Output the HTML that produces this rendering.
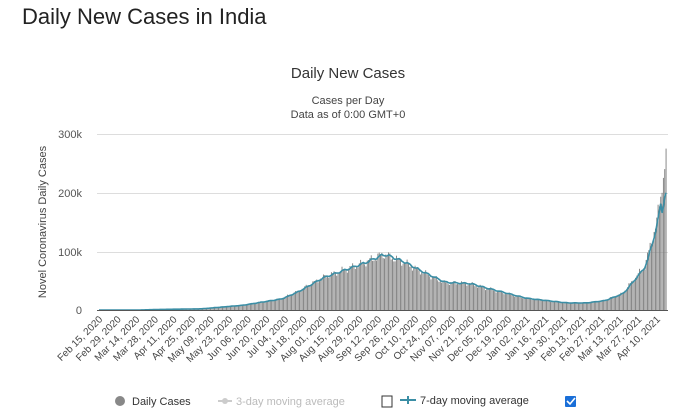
<!DOCTYPE html>
<html><head><meta charset="utf-8"><style>
body{margin:0;background:#fff;width:683px;height:413px;overflow:hidden;font-family:"Liberation Sans","DejaVu Sans",sans-serif}
</style></head><body>
<svg id="s" width="683" height="413" xmlns="http://www.w3.org/2000/svg" font-family="Liberation Sans, DejaVu Sans, sans-serif">
<text x="22" y="24" font-size="22" fill="#222">Daily New Cases in India</text>
<text x="348" y="78" font-size="15" fill="#333" text-anchor="middle">Daily New Cases</text>
<text x="348" y="104" font-size="11" fill="#444" text-anchor="middle">Cases per Day</text>
<text x="348" y="118" font-size="11" fill="#444" text-anchor="middle">Data as of 0:00 GMT+0</text>
<text transform="translate(46,222) rotate(-90)" font-size="11" fill="#444" text-anchor="middle">Novel Coronavirus Daily Cases</text>
<g stroke="#ddd" stroke-width="1">
<line x1="97" x2="668" y1="134.5" y2="134.5"/><line x1="97" x2="668" y1="193.5" y2="193.5"/><line x1="97" x2="668" y1="252.5" y2="252.5"/>
</g>
<g font-size="11" fill="#555" text-anchor="end">
<text x="82" y="138">300k</text><text x="82" y="197">200k</text><text x="82" y="256">100k</text><text x="82" y="314">0</text>
</g>
<g id="bars" fill="#7d7d7d"></g>
<path id="avg" fill="none" stroke="#3b8ea5" stroke-width="1.6"/>
<line x1="97" x2="668" y1="310.5" y2="310.5" stroke="#555"/>
<g id="lbl" font-size="10" fill="#444"></g>
<circle cx="120" cy="401" r="5" fill="#888"/>
<text x="132" y="405" font-size="11" fill="#333">Daily Cases</text>
<line x1="218" x2="232" y1="401" y2="401" stroke="#ccc" stroke-width="2"/><circle cx="225" cy="401" r="3" fill="#ccc"/>
<text x="236" y="405" font-size="11" fill="#bbb">3-day moving average</text>
<rect x="382" y="396" width="10" height="11" fill="#fff" stroke="#333"/>
<line x1="400" x2="416" y1="400" y2="400" stroke="#3b8ea5" stroke-width="2"/><path d="M408 396v8M404 400h8" stroke="#3b8ea5" stroke-width="2"/>
<text x="420" y="404" font-size="11" fill="#333">7-day moving average</text>
<rect x="565" y="396" width="11" height="11" rx="1" fill="#1a6fd8"/>
<path d="M567 401l3 3 5-6" stroke="#fff" stroke-width="1.6" fill="none"/>
</svg>
<script>
var k=[[0,0],[30,50],[46,1000],[76,2000],[107,8000],[137,19000],[150,32000],[168,55000],[199,80000],[214,95000],[229,82000],[243,65000],[260,47000],[279,45000],[290,38000],[321,20000],[352,12000],[366,12000],[380,16000],[394,28000],[411,75000],[420,150000],[426,240000],[427,275000]];
function f(d){for(var i=1;i<k.length;i++){if(d<=k[i][0]){var a=k[i-1],b=k[i];return a[1]+(b[1]-a[1])*(d-a[0])/(b[0]-a[0]);}}return 0;}
var X=function(d){return 99+d*1.328},Y=function(v){return 310-v*0.000587};
var bars='',vals=[];
for(var d=0;d<=427;d++){var v=f(d)*(1+0.06*Math.sin(d*0.9)+0.04*Math.cos(d*2.3));if(d>=425)v=f(d);vals.push(v);
var y=Y(v);bars+='<rect x="'+(X(d)-0.45).toFixed(2)+'" y="'+y.toFixed(1)+'" width="0.9" height="'+(310-y).toFixed(1)+'"/>';}
document.getElementById('bars').innerHTML=bars;
var p='';for(var d=0;d<=427;d++){var s=0,n=0;for(var j=Math.max(0,d-3);j<=Math.min(427,d+1);j++){s+=vals[j];n++;}p+=(d?'L':'M')+X(d).toFixed(1)+' '+Y(s/n*(d>=424?0.85:1)).toFixed(1);}
document.getElementById('avg').setAttribute('d',p);
var L=["Feb 15, 2020","Feb 29, 2020","Mar 14, 2020","Mar 28, 2020","Apr 11, 2020","Apr 25, 2020","May 09, 2020","May 23, 2020","Jun 06, 2020","Jun 20, 2020","Jul 04, 2020","Jul 18, 2020","Aug 01, 2020","Aug 15, 2020","Aug 29, 2020","Sep 12, 2020","Sep 26, 2020","Oct 10, 2020","Oct 24, 2020","Nov 07, 2020","Nov 21, 2020","Dec 05, 2020","Dec 19, 2020","Jan 02, 2021","Jan 16, 2021","Jan 30, 2021","Feb 13, 2021","Feb 27, 2021","Mar 13, 2021","Mar 27, 2021","Apr 10, 2021"];
var t='';L.forEach(function(s,i){var x=X(i*14)+4;t+='<text text-anchor="end" transform="translate('+x.toFixed(1)+',320) rotate(-45)">'+s+'</text>';});
document.getElementById('lbl').innerHTML=t;
</script>
</body></html>
